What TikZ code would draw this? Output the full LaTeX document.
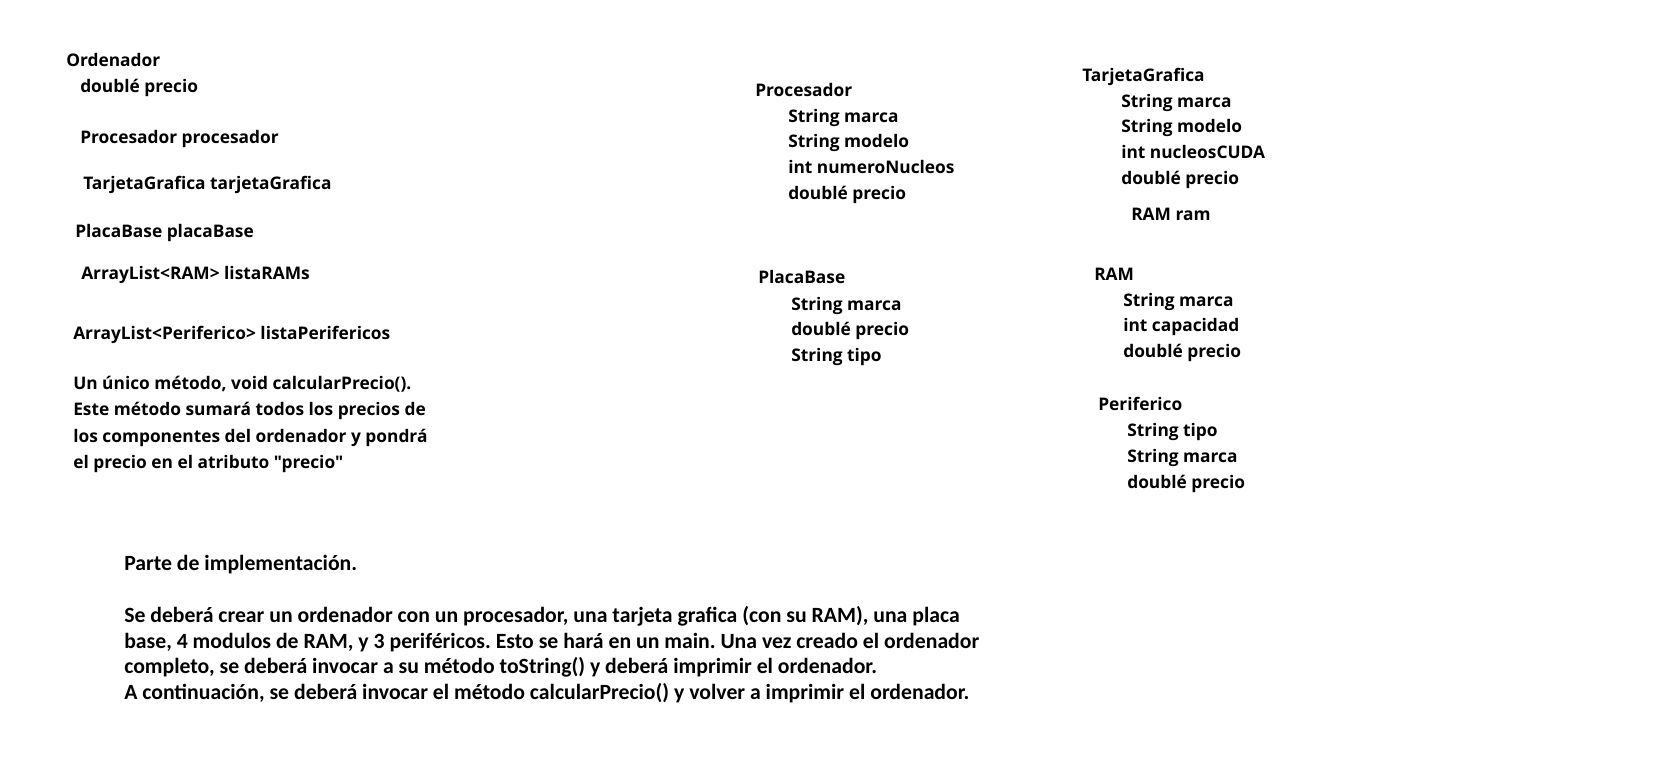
\documentclass[tikz,border=0pt]{standalone}
\usepackage{fontspec}
\setmainfont{Open Sans}[Ligatures=TeXOff]
\newfontfamily\cuerpo{Carlito}
\frenchspacing
\tikzset{
    clase/.style={anchor=base west,inner sep=0pt,font=\bfseries\fontsize{13}{16}\selectfont},
    campo/.style={clase},
    texto/.style={anchor=base west,inner sep=0pt,font=\cuerpo\bfseries\fontsize{16.3}{19}\selectfont}
}
\begin{document}
\begin{tikzpicture}[x=0.75pt,y=-0.75pt]
                    \useasboundingbox (0,0) rectangle (1677,771);

                    \node[clase] (ord) at (66,66) {Ordenador};
                    \node[campo] (ordprecio) at (80,92) {doublé precio};
                    \node[campo] (ordproc) at (80,143) {Procesador procesador};
                    \node[campo] (ordtarj) at (83,189) {TarjetaGrafica tarjetaGrafica};
                    \node[campo] (ordplaca) at (75,237) {PlacaBase placaBase};
                    \node[campo] (ordrams) at (81,279) {ArrayList<RAM> listaRAMs};
                    \node[campo] (ordperif) at (73,339) {ArrayList<Periferico> listaPerifericos};
                    \foreach \t [count=\i] in {{Un único método, void calcularPrecio().},
                        Este método sumará todos los precios de,
                        los componentes del ordenador y pondrá,
                        el precio en el atributo "precio"}
                        \node[campo] (metodo\i) at (73,{389+26.6*(\i-1)}) {\t};

                    \node[clase] (proc) at (755,96) {Procesador};
                    \foreach \t [count=\i] in {String marca,String modelo,int numeroNucleos,doublé precio}
                        \node[campo] (proc\i) at (788,{122+25.9*(\i-1)}) {\t};

                    \node[clase] (placa) at (758,283) {PlacaBase};
                    \foreach \t [count=\i] in {String marca,doublé precio,String tipo}
                        \node[campo] (placa\i) at (791,{310+25.6*(\i-1)}) {\t};

                    \node[clase] (tarj) at (1082,81) {TarjetaGrafica};
                    \foreach \t [count=\i] in {String marca,String modelo,int nucleosCUDA,doublé precio}
                        \node[campo] (tarj\i) at (1121,{107+25.9*(\i-1)}) {\t};
                    \node[campo] (tarjram) at (1131,220) {RAM ram};

                    \node[clase] (ram) at (1094,280) {RAM};
                    \foreach \t [count=\i] in {String marca,int capacidad,doublé precio}
                        \node[campo] (ram\i) at (1123,{306+25.6*(\i-1)}) {\t};

                    \node[clase] (perif) at (1098,410) {Periferico};
                    \foreach \t [count=\i] in {String tipo,String marca,doublé precio}
                        \node[campo] (perif\i) at (1127,{436+26*(\i-1)}) {\t};

                    \node[texto] (impl) at (124,570) {Parte de implementación.};
                    \node[texto] (enun1) at (124,622) {Se deberá crear un ordenador con un procesador, una tarjeta grafica (con su RAM), una placa};
                    \node[texto] (enun2) at (124,648) {base, 4 modulos de RAM, y 3 periféricos. Esto se hará en un main. Una vez creado el ordenador};
                    \node[texto] (enun3) at (124,673) {completo, se deberá invocar a su método toString() y deberá imprimir el ordenador.};
                    \node[texto] (enun4) at (124,699) {A continuación, se deberá invocar el método calcularPrecio() y volver a imprimir el ordenador.};
\end{tikzpicture}
\end{document}
